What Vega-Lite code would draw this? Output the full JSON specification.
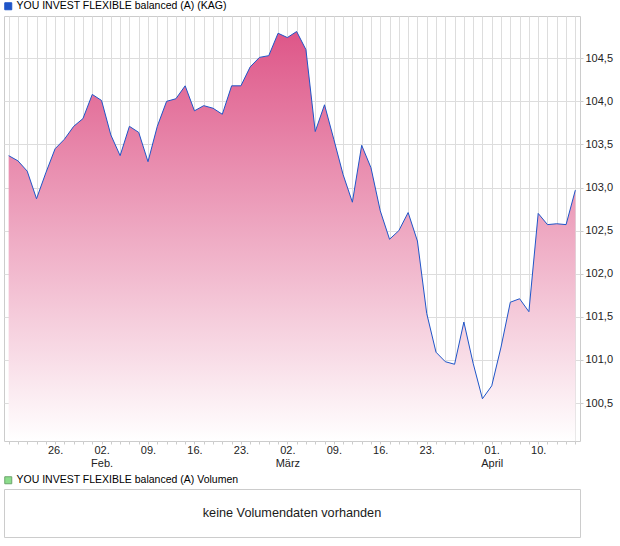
{
  "$schema": "https://vega.github.io/schema/vega-lite/v6.json",
  "padding": {"left": 2, "top": 0, "right": 0, "bottom": 0},
  "autosize": {"type": "pad"},
  "spacing": 5,
  "config": {
    "font": "Liberation Sans",
    "view": {"stroke": "#cccccc"},
    "axis": {
      "labelFont": "Liberation Sans",
      "labelFontSize": 11,
      "labelColor": "#222222",
      "gridColor": "#dddddd",
      "gridWidth": 1,
      "tickColor": "#cccccc",
      "tickSize": 3,
      "domain": false,
      "title": null
    },
    "legend": {
      "labelFont": "Liberation Sans",
      "labelFontSize": 10.5,
      "labelColor": "#000000",
      "labelLimit": 0,
      "symbolType": "square",
      "symbolSize": 49,
      "symbolStrokeWidth": 1,
      "padding": 0,
      "title": null,
      "orient": "none"
    }
  },
  "resolve": {
    "scale": {"color": "independent"},
    "legend": {"color": "independent"}
  },
  "vconcat": [
    {
      "width": 576,
      "height": 425,
      "data": {
        "values": [
          {"i": 0, "kurs": 103.37}, {"i": 1, "kurs": 103.31}, {"i": 2, "kurs": 103.19},
          {"i": 3, "kurs": 102.87}, {"i": 4, "kurs": 103.17}, {"i": 5, "kurs": 103.45},
          {"i": 6, "kurs": 103.56}, {"i": 7, "kurs": 103.71}, {"i": 8, "kurs": 103.8},
          {"i": 9, "kurs": 104.08}, {"i": 10, "kurs": 104.01}, {"i": 11, "kurs": 103.61},
          {"i": 12, "kurs": 103.37}, {"i": 13, "kurs": 103.71}, {"i": 14, "kurs": 103.64},
          {"i": 15, "kurs": 103.3}, {"i": 16, "kurs": 103.71}, {"i": 17, "kurs": 104.0},
          {"i": 18, "kurs": 104.03}, {"i": 19, "kurs": 104.18}, {"i": 20, "kurs": 103.89},
          {"i": 21, "kurs": 103.95}, {"i": 22, "kurs": 103.92}, {"i": 23, "kurs": 103.85},
          {"i": 24, "kurs": 104.18}, {"i": 25, "kurs": 104.18}, {"i": 26, "kurs": 104.4},
          {"i": 27, "kurs": 104.51}, {"i": 28, "kurs": 104.53}, {"i": 29, "kurs": 104.79},
          {"i": 30, "kurs": 104.74}, {"i": 31, "kurs": 104.81}, {"i": 32, "kurs": 104.6},
          {"i": 33, "kurs": 103.65}, {"i": 34, "kurs": 103.96}, {"i": 35, "kurs": 103.56},
          {"i": 36, "kurs": 103.15}, {"i": 37, "kurs": 102.83}, {"i": 38, "kurs": 103.49},
          {"i": 39, "kurs": 103.23}, {"i": 40, "kurs": 102.73}, {"i": 41, "kurs": 102.4},
          {"i": 42, "kurs": 102.5}, {"i": 43, "kurs": 102.71}, {"i": 44, "kurs": 102.38},
          {"i": 45, "kurs": 101.54}, {"i": 46, "kurs": 101.09}, {"i": 47, "kurs": 100.98},
          {"i": 48, "kurs": 100.95}, {"i": 49, "kurs": 101.44}, {"i": 50, "kurs": 100.96},
          {"i": 51, "kurs": 100.55}, {"i": 52, "kurs": 100.7}, {"i": 53, "kurs": 101.15},
          {"i": 54, "kurs": 101.67}, {"i": 55, "kurs": 101.71}, {"i": 56, "kurs": 101.56},
          {"i": 57, "kurs": 102.7}, {"i": 58, "kurs": 102.57}, {"i": 59, "kurs": 102.58},
          {"i": 60, "kurs": 102.57}, {"i": 61, "kurs": 102.97}
        ]
      },
      "encoding": {
        "x": {
          "field": "i",
          "type": "quantitative",
          "scale": {"domain": [-0.5, 61.5], "nice": false, "zero": false},
          "axis": {
            "values": [0, 1, 2, 3, 4, 5, 6, 7, 8, 9, 10, 11, 12, 13, 14, 15, 16, 17, 18, 19, 20, 21, 22, 23, 24, 25, 26, 27, 28, 29, 30, 31, 32, 33, 34, 35, 36, 37, 38, 39, 40, 41, 42, 43, 44, 45, 46, 47, 48, 49, 50, 51, 52, 53, 54, 55, 56, 57, 58, 59, 60, 61],
            "labelExpr": "datum.value == 5 ? '26.' : datum.value == 10 ? ['02.', 'Feb.'] : datum.value == 15 ? '09.' : datum.value == 20 ? '16.' : datum.value == 25 ? '23.' : datum.value == 30 ? ['02.', 'März'] : datum.value == 35 ? '09.' : datum.value == 40 ? '16.' : datum.value == 45 ? '23.' : datum.value == 52 ? ['01.', 'April'] : datum.value == 57 ? '10.' : ''",
            "labelOverlap": false,
            "labelBound": false,
            "labelFlush": false,
            "labelLineHeight": 13,
            "labelPadding": 0
          }
        },
        "y": {
          "field": "kurs",
          "type": "quantitative",
          "scale": {"domain": [100.06, 104.99], "nice": false, "zero": false},
          "axis": {
            "orient": "right",
            "values": [100.5, 101, 101.5, 102, 102.5, 103, 103.5, 104, 104.5],
            "labelExpr": "replace(format(datum.value, '.1f'), '.', ',')",
            "labelPadding": 2
          }
        }
      },
      "layer": [
        {
          "mark": {
            "type": "area",
            "fill": {
              "gradient": "linear",
              "x1": 1, "y1": 1, "x2": 1, "y2": 0,
              "stops": [
                {"offset": 0, "color": "#ffffff"},
                {"offset": 1, "color": "#de5688"}
              ]
            }
          },
          "encoding": {
            "y2": {"datum": 100.06}
          }
        },
        {
          "mark": {"type": "line", "strokeWidth": 1},
          "encoding": {
            "color": {
              "datum": "YOU INVEST FLEXIBLE balanced (A) (KAG)",
              "scale": {"range": ["#1f55c8"]},
              "legend": {
                "legendX": -1,
                "legendY": -15,
                "symbolFillColor": "#1f55c8",
                "symbolStrokeColor": "#12367f",
                "labelOffset": 3
              }
            }
          }
        }
      ]
    },
    {
      "width": 576,
      "height": 48,
      "view": {"stroke": "#cccccc"},
      "data": {
        "values": [
          {"hinweis": "keine Volumendaten vorhanden", "reihe": "YOU INVEST FLEXIBLE balanced (A) Volumen"}
        ]
      },
      "layer": [
        {
          "mark": {"type": "text", "fontSize": 12.7, "color": "#1a1a1a", "font": "Liberation Sans"},
          "encoding": {
            "text": {"field": "hinweis"}
          }
        },
        {
          "mark": {"type": "point", "shape": "square", "filled": true, "size": 0},
          "encoding": {
            "color": {
              "field": "reihe",
              "type": "nominal",
              "scale": {"range": ["#5ccf5c"]},
              "legend": {
                "legendX": -1,
                "legendY": -14,
                "symbolStrokeColor": "#2f7f2f",
                "labelOffset": 3
              }
            }
          }
        }
      ]
    }
  ]
}
